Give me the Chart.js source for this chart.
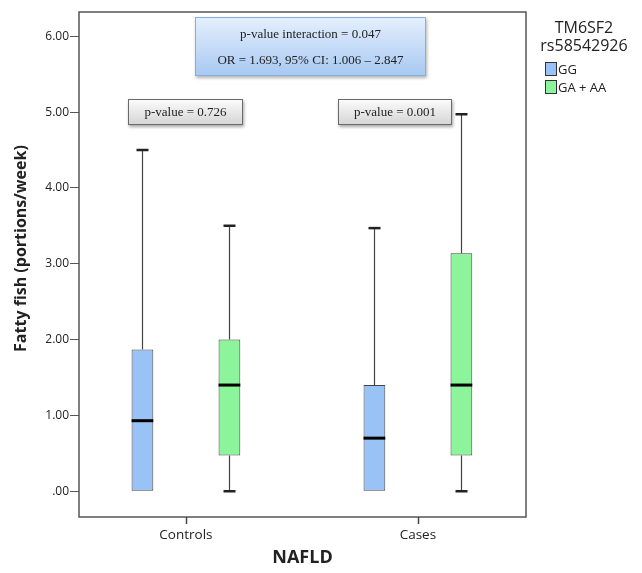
<!DOCTYPE html>
<html>
<head>
<meta charset="utf-8">
<script src="https://cdn.jsdelivr.net/npm/chart.js@4/dist/chart.umd.min.js"></script>
<style>
  body { margin: 0; background: #fff; }
  #wrap { position: relative; width: 642px; height: 573px; }
  #chart { position: absolute; left: 0; top: 0; }
  .note {
    position: absolute; font-family: "Liberation Serif", serif; font-size: 13px;
    color: #222; text-align: center; box-sizing: border-box;
  }
  .pbox {
    border: 1px solid #6a6a6a;
    background: linear-gradient(#fafafa, #d6d6d6);
    box-shadow: 1px 2px 3px rgba(0,0,0,0.35);
    line-height: 24px;
  }
  .ibox {
    border: 1px solid #86aee0;
    background: linear-gradient(#e4effd, #a8c9f2);
    box-shadow: 1px 2px 3px rgba(0,0,0,0.3);
  }
  .legend { position: absolute; font-family: "Open Sans", sans-serif; color: #222; }
  .sw { display: inline-block; width: 10px; height: 12px; border: 1px solid #333; vertical-align: -2px; margin-right: 1px; }
</style>
</head>
<body>
<div id="wrap">
  <canvas id="chart" width="642" height="573"></canvas>
  <div class="note ibox" style="left:195px;top:17px;width:231px;height:59px;">
    <div style="margin-top:8px;">p-value interaction = 0.047</div>
    <div style="margin-top:10px;">OR = 1.693, 95% CI: 1.006 – 2.847</div>
  </div>
  <div class="note pbox" style="left:128px;top:99px;width:115px;height:26px;">p-value = 0.726</div>
  <div class="note pbox" style="left:338px;top:99px;width:114px;height:26px;">p-value = 0.001</div>
  <div class="legend" style="left:534px;top:18px;width:100px;text-align:center;font-size:16px;line-height:18px;">TM6SF2<br>rs58542926</div>
  <div class="legend" style="left:545px;top:60px;font-size:13px;line-height:18px;">
    <div><span class="sw" style="background:#99c2f6"></span>GG</div>
    <div><span class="sw" style="background:#8cf59c"></span>GA + AA</div>
  </div>
</div>
<script>
console.log("boxplot loaded");

const categories = ["Controls", "Cases"];
const seriesNames = ["GG", "GA + AA"];
const seriesColors = ["#99c2f6", "#8cf59c"];
// per series: [Controls, Cases]
const minVals = [[0, 0], [0, 0]];
const q1Vals = [[0, 0], [0.47, 0.47]];
const medianVals = [[0.93, 0.70], [1.40, 1.40]];
const q3Vals = [[1.87, 1.40], [2.00, 3.14]];
const maxVals = [[4.50, 3.47], [3.50, 4.97]];
const yTicks = [0, 1, 2, 3, 4, 5, 6];
const yTitle = "Fatty fish (portions/week)";

function fmtTick(v) {
    if (v === 0) return ".00";
    return v.toFixed(2);
}

const boxPlugin = {
    id: "boxParts",
    afterDatasetsDraw(chart) {
        const ctx = chart.ctx;
        const y = chart.scales.y;
        ctx.save();
        seriesNames.forEach((name, si) => {
            const meta = chart.getDatasetMeta(si);
            meta.data.forEach((bar, ci) => {
                const cx = Math.round(bar.x) + 0.5;
                const half = bar.width / 2;
                const yMin = y.getPixelForValue(minVals[si][ci]);
                const yQ1 = y.getPixelForValue(q1Vals[si][ci]);
                const yMax = y.getPixelForValue(maxVals[si][ci]);
                const yQ3 = y.getPixelForValue(q3Vals[si][ci]);
                const yMed = y.getPixelForValue(medianVals[si][ci]);
                // whiskers
                ctx.strokeStyle = "#444";
                ctx.lineWidth = 1.2;
                ctx.beginPath();
                ctx.moveTo(cx, yQ3);
                ctx.lineTo(cx, yMax);
                if (yMin > yQ1) {
                    ctx.moveTo(cx, yQ1);
                    ctx.lineTo(cx, yMin);
                }
                ctx.stroke();
                // caps
                ctx.strokeStyle = "#222";
                ctx.lineWidth = 2.5;
                ctx.beginPath();
                ctx.moveTo(cx - 6, yMax);
                ctx.lineTo(cx + 6, yMax);
                if (yMin > yQ1) {
                    ctx.moveTo(cx - 6, yMin);
                    ctx.lineTo(cx + 6, yMin);
                }
                ctx.stroke();
                // median
                ctx.strokeStyle = "#000";
                ctx.lineWidth = 3;
                ctx.beginPath();
                ctx.moveTo(bar.x - half, yMed);
                ctx.lineTo(bar.x + half, yMed);
                ctx.stroke();
            });
        });
        ctx.restore();
    },
    afterDraw(chart) {
        const ctx = chart.ctx;
        const y = chart.scales.y;
        const area = chart.chartArea;
        ctx.save();
        // plot frame
        ctx.strokeStyle = "#555";
        ctx.lineWidth = 1.5;
        ctx.strokeRect(area.left, area.top, area.right - area.left, area.bottom - area.top);
        // category tick marks, at the centre of each group of boxes
        ctx.strokeStyle = "#444";
        ctx.lineWidth = 1.5;
        categories.forEach((c, ci) => {
            const b0 = chart.getDatasetMeta(0).data[ci];
            const b1 = chart.getDatasetMeta(1).data[ci];
            const px = Math.round((b0.x + b1.x) / 2) + 0.5;
            ctx.beginPath();
            ctx.moveTo(px, area.bottom);
            ctx.lineTo(px, area.bottom + 7);
            ctx.stroke();
        });
        // y axis title
        ctx.translate(21, y.getPixelForValue(3.2));
        ctx.rotate(-Math.PI / 2);
        ctx.fillStyle = "#222";
        ctx.font = "bold 16px 'Open Sans'";
        ctx.textAlign = "center";
        ctx.textBaseline = "middle";
        ctx.fillText(yTitle, 0, 0);
        ctx.restore();
    }
};

const datasets = seriesNames.map((name, si) => ({
    label: name,
    data: categories.map((c, ci) => ({ x: ci, y: [q1Vals[si][ci], q3Vals[si][ci]] })),
    backgroundColor: seriesColors[si],
    borderColor: "#444",
    borderWidth: 1,
    borderSkipped: false,
    categoryPercentage: 0.75,
    barPercentage: 0.25
}));

new Chart(document.getElementById("chart"), {
    type: "bar",
    data: { datasets: datasets },
    options: {
        responsive: false,
        animation: false,
        layout: { padding: { top: 12, right: 116, left: 0, bottom: 0 } },
        plugins: {
            legend: { display: false },
            tooltip: { enabled: false }
        },
        scales: {
            x: {
                type: "linear",
                offset: false,
                min: -0.461,
                max: 1.466,
                afterBuildTicks(scale) { scale.ticks = categories.map((c, i) => ({ value: i })); },
                grid: { display: false, drawTicks: false },
                border: { display: false },
                ticks: { color: "#222", font: { family: "Open Sans", size: 13.5 }, padding: 10, callback: v => categories[v] },
                title: { display: true, text: "NAFLD", color: "#222", font: { family: "Open Sans", size: 18, weight: "bold" }, padding: { top: 6 } },
                afterFit(scale) { scale.height = 56; }
            },
            y: {
                min: -0.34,
                max: 6.32,
                afterBuildTicks(scale) { scale.ticks = yTicks.map(v => ({ value: v })); },
                grid: { display: true, drawOnChartArea: false, drawTicks: true, tickLength: 9, color: "#555" },
                border: { display: false },
                ticks: { color: "#222", font: { family: "Open Sans", size: 12 }, padding: 1, callback: v => fmtTick(v) },
                afterFit(scale) { scale.width = 79; }
            }
        }
    },
    plugins: [boxPlugin]
});
</script>
</body>
</html>
